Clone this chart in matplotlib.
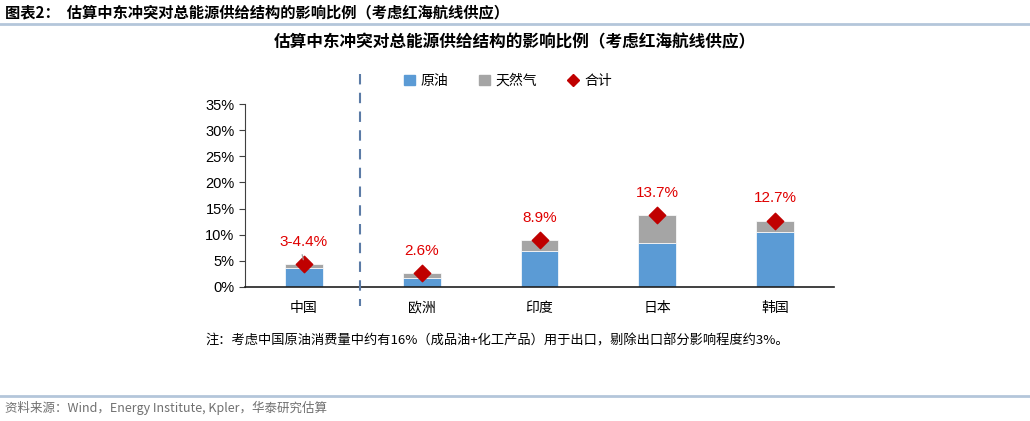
import matplotlib.pyplot as plt
from matplotlib.lines import Line2D
from matplotlib.patches import Patch
import numpy as np

plt.rcParams['font.family'] = ['Liberation Sans', 'Noto Sans CJK SC', 'DejaVu Sans']

# data
regions = ["中国", "欧洲", "印度", "日本", "韩国"]
oil = [3.7, 1.8, 6.8, 8.5, 10.6]
gas = [0.7, 0.8, 2.1, 5.2, 2.1]
total = [4.4, 2.6, 8.9, 13.7, 12.7]
total_labels = ["3-4.4%", "2.6%", "8.9%", "13.7%", "12.7%"]
yticks = [0, 5, 10, 15, 20, 25, 30, 35]

oil_color = "#5B9BD5"
gas_color = "#A5A5A5"
red = "#C00000"
cjk = ['Noto Sans CJK SC', 'DejaVu Sans']

fig = plt.figure(figsize=(10.3, 4.21), dpi=100)
ax = fig.add_axes([245/1030, 134/421, 589/1030, 183/421])

x = np.arange(len(regions))
ax.bar(x, oil, width=0.32, color=oil_color, edgecolor="white", linewidth=0.5)
ax.bar(x, gas, width=0.32, bottom=oil, color=gas_color, edgecolor="white", linewidth=0.5)
ax.scatter(x, total, marker="D", s=70, color=red, zorder=3)

for i, (v, lab) in enumerate(zip(total, total_labels)):
    ax.annotate(lab, (x[i], v), xytext=(0, 16), textcoords="offset points",
                ha="center", va="center", color="#E00000", fontsize=11)
# leader line for China
ax.annotate("", (x[0], total[0] + 0.3), xytext=(x[0] - 0.02, 6.7),
            arrowprops=dict(arrowstyle="-", color="#A0A0A0", lw=0.9))

ax.set_xlim(-0.5, len(regions) - 0.5)
ax.set_ylim(0, 35)
ax.set_yticks(yticks)
ax.set_yticklabels([f"{t}%" for t in yticks], fontsize=10.5)
ax.set_xticks(x)
ax.set_xticklabels(regions, family=cjk, fontsize=10)
ax.tick_params(axis="x", length=0, pad=10)
ax.tick_params(axis="y", length=4, color="#404040", direction="out")
for s in ["top", "right"]:
    ax.spines[s].set_visible(False)
ax.spines["left"].set_color("#404040")
ax.spines["bottom"].set_color("#202020")
ax.spines["bottom"].set_linewidth(1.2)

# dashed separator
fig.add_artist(Line2D([360/1030, 360/1030], [1 - 74/421, 1 - 306/421],
                      color="#5B7BA6", lw=1.5, ls=(0, (5, 4))))

handles = [Patch(color=oil_color), Patch(color=gas_color),
           Line2D([], [], marker="D", color=red, ls="", markersize=6)]
fig.legend(handles, ["原油", "天然气", "合计"], loc="center",
           bbox_to_anchor=(508/1030, 1 - 81/421), ncol=3, frameon=False,
           prop={'family': cjk, 'size': 10}, handlelength=0.8, handleheight=0.8,
           columnspacing=2.2, handletextpad=0.4)

fig.text(0.5, 1 - 42/421, "估算中东冲突对总能源供给结构的影响比例（考虑红海航线供应）",
         ha="center", va="center", fontsize=12, fontweight="bold", family=cjk)
fig.text(5/1030, 1 - 12/421, "图表2：  估算中东冲突对总能源供给结构的影响比例（考虑红海航线供应）",
         ha="left", va="center", fontsize=11, fontweight="bold", family=cjk)
fig.add_artist(Line2D([0, 1], [1 - 24/421, 1 - 24/421], color="#B4C6DA", lw=2))
fig.text(497/1030, 1 - 341/421,
         "注：考虑中国原油消费量中约有16%（成品油+化工产品）用于出口，剔除出口部分影响程度约3%。",
         ha="center", va="center", fontsize=9.5, family=cjk)
fig.add_artist(Line2D([0, 1], [1 - 396/421, 1 - 396/421], color="#B4C6DA", lw=2))
fig.text(5/1030, 1 - 408/421, "资料来源：Wind，Energy Institute, Kpler，华泰研究估算",
         ha="left", va="center", fontsize=9, color="#707070", family=cjk)

fig.savefig("out.png", dpi=100)
